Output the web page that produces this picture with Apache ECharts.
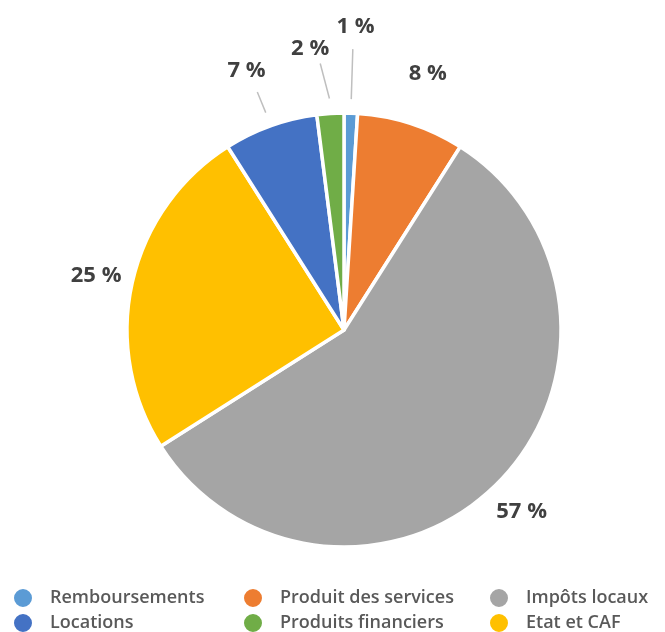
<!DOCTYPE html>
<html>
<head>
<meta charset="utf-8">
<script src="https://cdn.jsdelivr.net/npm/echarts@6/dist/echarts.min.js"></script>
<style>
html,body{margin:0;padding:0;background:#fff;}
#chart{width:665px;height:632px;}
</style>
</head>
<body>
<div id="chart"></div>
<script>
// Data (clockwise from 12 o'clock)
const categories = ['Remboursements', 'Produit des services', 'Impôts locaux', 'Etat et CAF', 'Locations', 'Produits financiers'];
const values = [1, 8, 57, 25, 7, 2];
const colors = ['#5B9BD5', '#ED7D31', '#A5A5A5', '#FFC000', '#4472C4', '#70AD47'];
// legend rows (3 columns)
const legendRow1 = ['Remboursements', 'Produit des services', 'Impôts locaux'];
const legendRow2 = ['Locations', 'Produits financiers', 'Etat et CAF'];

// label placement (offsets from slice edge, px): lineStart, lineEnd, labelCenter, showLine, nudges
const labelCfg = [
  {ls: 14, le: 64, lc: 86, line: true, lx: 0, tx: 2, ty: 0},
  {ls: 0, le: 40, lc: 54, line: false, lx: 0, tx: 0, ty: 1},
  {ls: 0, le: 30, lc: 37, line: false, lx: 0, tx: -2, ty: 2},
  {ls: 0, le: 30, lc: 38, line: false, lx: 0, tx: 1, ty: 1},
  {ls: 14, le: 36, lc: 62, line: true, lx: -1, tx: -3, ty: 3},
  {ls: 15, le: 50, lc: 67, line: true, lx: -7, tx: -16, ty: 2}
];

const chart = echarts.init(document.getElementById('chart'), null, {renderer: 'canvas'});

const legendLefts = [12, 242, 488];
const legendTops = [587, 612];
const legendBase = {
  orient: 'horizontal',
  icon: 'circle',
  itemWidth: 20,
  itemHeight: 20,
  padding: 0,
  selectedMode: false,
  textStyle: {color: '#595959', fontSize: 18, fontWeight: 600, fontFamily: 'Open Sans', padding: [0, 0, 0, 12]}
};
const legends = [];
[legendRow1, legendRow2].forEach((row, r) => {
  row.forEach((name, c) => {
    legends.push(Object.assign({}, legendBase, {left: legendLefts[c], top: legendTops[r], data: [name]}));
  });
});

chart.setOption({
  animation: false,
  backgroundColor: '#ffffff',
  color: colors,
  legend: legends,
  series: [{
    type: 'pie',
    center: [344, 330],
    radius: 217,
    startAngle: 90,
    clockwise: true,
    avoidLabelOverlap: false,
    itemStyle: {borderColor: '#ffffff', borderWidth: 3.5},
    label: {
      show: true,
      position: 'outside',
      formatter: '{c} %',
      color: '#404040',
      fontSize: 22,
      fontWeight: 'bold',
      fontFamily: 'Open Sans'
    },
    labelLine: {
      show: true,
      length: 30,
      length2: 0,
      lineStyle: {color: '#BFBFBF', width: 1.5}
    },
    labelLayout: function (p) {
      const cfg = labelCfg[p.dataIndex];
      const pts = p.labelLinePoints;
      if (!pts) return {};
      const p0 = pts[0], p1 = pts[1];
      let dx = p1[0] - p0[0], dy = p1[1] - p0[1];
      const len = Math.sqrt(dx * dx + dy * dy) || 1;
      dx /= len; dy /= len;
      const s = [p0[0] + dx * cfg.ls, p0[1] + dy * cfg.ls];
      const e = [p0[0] + dx * cfg.le + cfg.lx, p0[1] + dy * cfg.le];
      const c = [p0[0] + dx * cfg.lc + cfg.tx, p0[1] + dy * cfg.lc + cfg.ty];
      return {
        x: c[0], y: c[1], align: 'center', verticalAlign: 'middle',
        labelLinePoints: cfg.line ? [s, e, e] : [c, c, c]
      };
    },
    data: categories.map((name, i) => ({
      name: name,
      value: values[i],
      labelLine: {length: labelCfg[i].le}
    }))
  }]
});
</script>
</body>
</html>
